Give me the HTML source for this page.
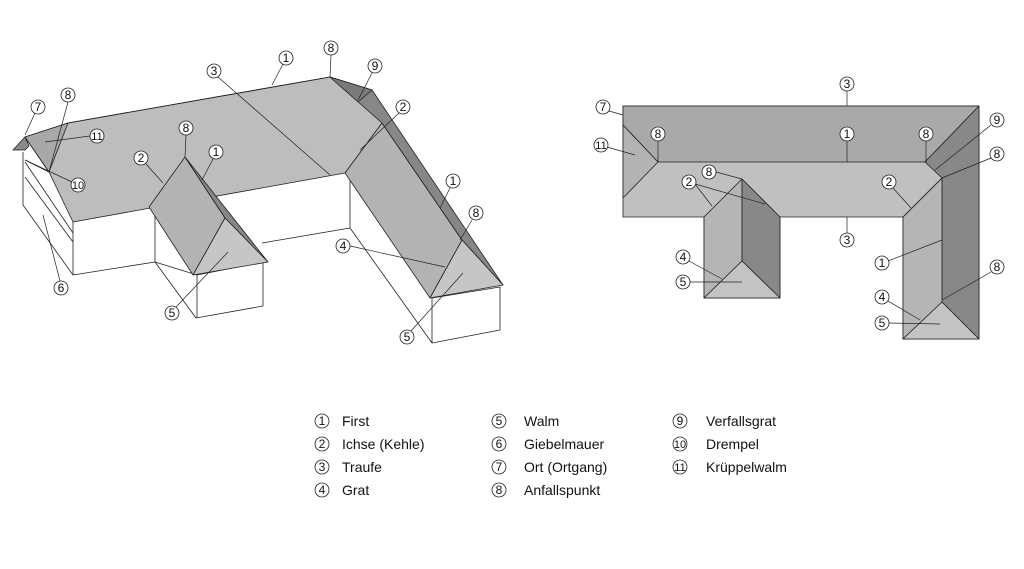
<!DOCTYPE html>
<html><head><meta charset="utf-8"><style>
html,body{margin:0;padding:0;background:#fff;}
svg{display:block;}
text{font-family:"Liberation Sans",sans-serif;fill:#111;}
</style></head><body>
<svg width="1024" height="569" viewBox="0 0 1024 569" xmlns="http://www.w3.org/2000/svg">
<g stroke="#222" stroke-width="0.8" stroke-linejoin="round">
<!-- LEFT 3D -->
<!-- walls -->
<polyline points="23,152 23,205 73,275 155,262 155,207" fill="#fff"/>
<line x1="73" y1="220" x2="73" y2="275"/>
<line x1="25" y1="162" x2="73" y2="233"/>
<line x1="25" y1="177" x2="73" y2="242"/>
<line x1="25" y1="160" x2="49" y2="172"/>
<polygon points="155,262 196,318 263,306 263,262 197,275" fill="#fff"/>
<line x1="197" y1="275" x2="197" y2="318"/>
<polyline points="262,243 350,228 350,173" fill="none"/>
<line x1="350" y1="228" x2="432" y2="343"/>
<polygon points="432,298 432,343 500,330 500,287" fill="#fff"/>
<!-- main roof -->
<polygon points="25,137 68,123 330,77 372,90 382,123 345,173 73,222 49,172" fill="#bdbdbd"/>
<polygon points="25,137 68,123 49,172" fill="#a8a8a8"/>
<polygon points="13,150 25,137 29,146 25,150" fill="#8a8a8a"/>
<line x1="330" y1="77" x2="68" y2="123"/>
<!-- right wing -->
<polygon points="345,173 382,123 462,240 430,298" fill="#b3b3b3"/>
<polygon points="330,77 372,90 503,285 462,240 382,123" fill="#878787"/>
<polygon points="330,77 372,90 358,102" fill="#7a7a7a"/>
<polygon points="430,298 462,240 503,285" fill="#c6c6c6"/>
<!-- dormer -->
<polygon points="149,207 185,157 225,218 193,275" fill="#b3b3b3"/>
<polygon points="185,157 268,262 225,218" fill="#878787"/>
<polygon points="193,275 225,218 268,262" fill="#c6c6c6"/>

<!-- RIGHT PLAN -->
<polygon points="623,106 979,106 979,339 903,339 903,217 780,217 780,298 704,298 704,217 623,217" fill="#c0c0c0"/>
<polygon points="623,106 979,106 925,162 658,162 623,125" fill="#a9a9a9"/>
<polygon points="623,125 658,162 623,198" fill="#b3b3b3"/>
<polygon points="979,106 979,339 942,302 942,178 925,162" fill="#888"/>
<polygon points="903,217 942,178 942,302 903,339" fill="#b5b5b5"/>
<polygon points="903,339 942,302 979,339" fill="#c3c3c3"/>
<polygon points="704,217 742,179 742,261 704,298" fill="#b5b5b5"/>
<polygon points="742,179 780,217 780,298 742,261" fill="#888"/>
<polygon points="704,298 742,261 780,298" fill="#c3c3c3"/>
<line x1="903" y1="217" x2="942" y2="178"/>
</g>

<!-- leaders -->
<g stroke="#222" stroke-width="0.7" fill="none">
<line x1="283" y1="64" x2="272" y2="85"/><line x1="218" y1="77" x2="330" y2="175"/>
<line x1="331" y1="55" x2="330" y2="77"/><line x1="372" y1="73" x2="358" y2="100"/>
<line x1="399" y1="113" x2="360" y2="150"/><line x1="35" y1="113" x2="25" y2="135"/>
<line x1="68" y1="102" x2="49" y2="172"/><line x1="90" y1="136" x2="45" y2="142"/>
<line x1="72" y1="182" x2="25" y2="160"/><line x1="186" y1="135" x2="185" y2="157"/>
<line x1="146" y1="164" x2="163" y2="183"/><line x1="213" y1="159" x2="202" y2="180"/>
<line x1="450" y1="188" x2="440" y2="208"/><line x1="472" y1="220" x2="460" y2="240"/>
<line x1="350" y1="246" x2="445" y2="267"/><line x1="176" y1="307" x2="228" y2="252"/>
<line x1="60" y1="281" x2="43" y2="215"/><line x1="411" y1="331" x2="463" y2="273"/>

<line x1="847" y1="91" x2="847" y2="106"/><line x1="609" y1="111" x2="623" y2="115"/>
<line x1="658" y1="141" x2="658" y2="162"/><line x1="607" y1="147" x2="635" y2="155"/>
<line x1="847" y1="141" x2="847" y2="162"/><line x1="926" y1="141" x2="926" y2="162"/>
<line x1="991" y1="125" x2="935" y2="170"/><line x1="991" y1="158" x2="942" y2="178"/>
<line x1="893" y1="188" x2="911" y2="208"/><line x1="716" y1="172" x2="742" y2="179"/>
<line x1="695" y1="184" x2="712" y2="206"/><line x1="695" y1="184" x2="765" y2="204"/>
<line x1="847" y1="217" x2="847" y2="233"/><line x1="689" y1="261" x2="722" y2="279"/>
<line x1="888" y1="261" x2="942" y2="240"/><line x1="690" y1="282" x2="742" y2="282"/>
<line x1="991" y1="272" x2="942" y2="300"/><line x1="888" y1="301" x2="920" y2="320"/>
<line x1="889" y1="323" x2="940" y2="324"/>
</g>

<!-- circled labels -->
<g font-size="12" text-anchor="middle">
<g fill="#fff" stroke="#222" stroke-width="0.8">
<circle cx="286" cy="58" r="7"/><circle cx="214" cy="71" r="7"/><circle cx="331" cy="48" r="7"/>
<circle cx="375" cy="66" r="7"/><circle cx="403" cy="107" r="7"/><circle cx="38" cy="107" r="7"/>
<circle cx="68" cy="95" r="7"/><circle cx="97" cy="136" r="7"/><circle cx="78" cy="185" r="7"/>
<circle cx="186" cy="128" r="7"/><circle cx="141" cy="158" r="7"/><circle cx="216" cy="152" r="7"/>
<circle cx="453" cy="181" r="7"/><circle cx="476" cy="213" r="7"/><circle cx="343" cy="246" r="7"/>
<circle cx="172" cy="313" r="7"/><circle cx="61" cy="288" r="7"/><circle cx="407" cy="337" r="7"/>
<circle cx="847" cy="84" r="7"/><circle cx="603" cy="107" r="7"/><circle cx="658" cy="134" r="7"/>
<circle cx="601" cy="145" r="7"/><circle cx="847" cy="134" r="7"/><circle cx="926" cy="134" r="7"/>
<circle cx="997" cy="120" r="7"/><circle cx="997" cy="154" r="7"/><circle cx="889" cy="182" r="7"/>
<circle cx="709" cy="172" r="7"/><circle cx="689" cy="182" r="7"/><circle cx="847" cy="240" r="7"/>
<circle cx="683" cy="257" r="7"/><circle cx="882" cy="263" r="7"/><circle cx="683" cy="282" r="7"/>
<circle cx="997" cy="267" r="7"/><circle cx="882" cy="297" r="7"/><circle cx="882" cy="323" r="7"/>
<circle cx="322" cy="421" r="7"/><circle cx="322" cy="444" r="7"/><circle cx="322" cy="467" r="7"/><circle cx="322" cy="490" r="7"/>
<circle cx="499" cy="421" r="7"/><circle cx="499" cy="444" r="7"/><circle cx="499" cy="467" r="7"/><circle cx="499" cy="490" r="7"/>
<circle cx="680" cy="421" r="7"/><circle cx="680" cy="444" r="7"/><circle cx="680" cy="467" r="7"/>
</g>
<text x="286" y="62">1</text><text x="214" y="75">3</text><text x="331" y="52">8</text>
<text x="375" y="70">9</text><text x="403" y="111">2</text><text x="38" y="111">7</text>
<text x="68" y="99">8</text><text x="97" y="140" font-size="11">11</text><text x="78" y="189" font-size="11">10</text>
<text x="186" y="132">8</text><text x="141" y="162">2</text><text x="216" y="156">1</text>
<text x="453" y="185">1</text><text x="476" y="217">8</text><text x="343" y="250">4</text>
<text x="172" y="317">5</text><text x="61" y="292">6</text><text x="407" y="341">5</text>
<text x="847" y="88">3</text><text x="603" y="111">7</text><text x="658" y="138">8</text>
<text x="601" y="149" font-size="11">11</text><text x="847" y="138">1</text><text x="926" y="138">8</text>
<text x="997" y="124">9</text><text x="997" y="158">8</text><text x="889" y="186">2</text>
<text x="709" y="176">8</text><text x="689" y="186">2</text><text x="847" y="244">3</text>
<text x="683" y="261">4</text><text x="882" y="267">1</text><text x="683" y="286">5</text>
<text x="997" y="271">8</text><text x="882" y="301">4</text><text x="882" y="327">5</text>
<text x="322" y="425">1</text><text x="322" y="448">2</text><text x="322" y="471">3</text><text x="322" y="494">4</text>
<text x="499" y="425">5</text><text x="499" y="448">6</text><text x="499" y="471">7</text><text x="499" y="494">8</text>
<text x="680" y="425">9</text><text x="680" y="448" font-size="11">10</text><text x="680" y="471" font-size="11">11</text>
</g>
<g font-size="14">
<text x="342" y="426">First</text><text x="342" y="449">Ichse (Kehle)</text><text x="342" y="472">Traufe</text><text x="342" y="495">Grat</text>
<text x="524" y="426">Walm</text><text x="524" y="449">Giebelmauer</text><text x="524" y="472">Ort (Ortgang)</text><text x="524" y="495">Anfallspunkt</text>
<text x="706" y="426">Verfallsgrat</text><text x="706" y="449">Drempel</text><text x="706" y="472">Krüppelwalm</text>
</g>
</svg>
</body></html>
